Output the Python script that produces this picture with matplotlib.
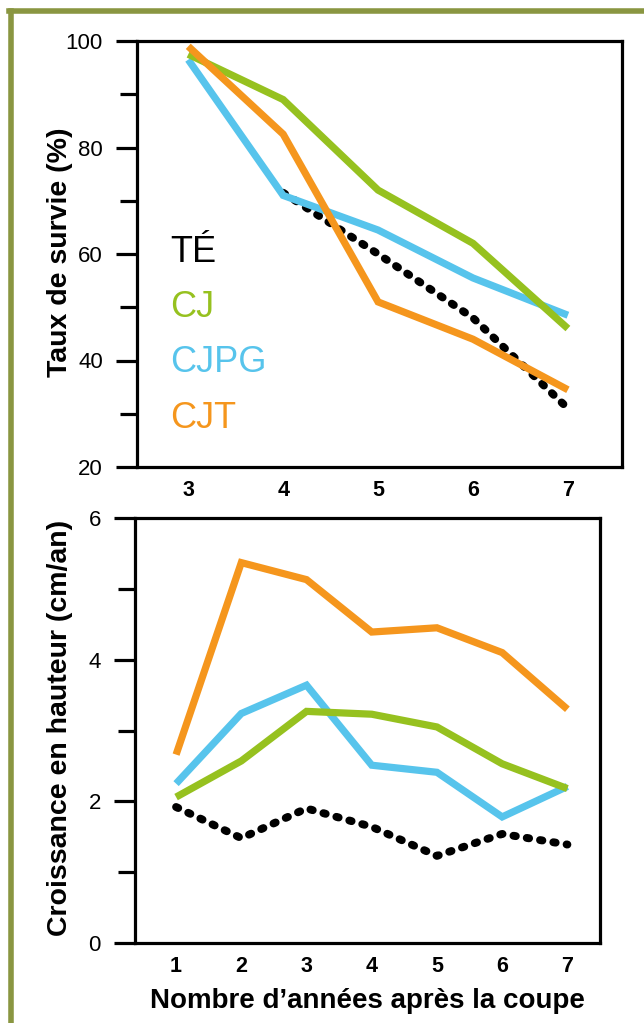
import matplotlib
matplotlib.use("Agg")
import matplotlib.pyplot as plt
from matplotlib.lines import Line2D

plt.rcParams['font.family'] = ['Liberation Sans', 'DejaVu Sans']

# survival (top panel), years 3..7
years_top = [3, 4, 5, 6, 7]
surv_cj = [97.5, 89, 72, 62, 46]
surv_cjpg = [96.5, 71, 64.5, 55.5, 48.5]
surv_cjt = [99, 82.5, 51, 44, 34.5]
years_te = [4, 5, 6, 7]
surv_te = [71.5, 60, 48, 31]

# height growth (bottom panel), years 1..7
years_bot = [1, 2, 3, 4, 5, 6, 7]
gr_cj = [2.06, 2.57, 3.27, 3.23, 3.05, 2.53, 2.18]
gr_cjpg = [2.25, 3.24, 3.64, 2.51, 2.41, 1.78, 2.21]
gr_cjt = [2.66, 5.37, 5.13, 4.39, 4.45, 4.1, 3.3]
gr_te = [1.92, 1.48, 1.9, 1.64, 1.23, 1.54, 1.39]

labels = ['TÉ', 'CJ', 'CJPG', 'CJT']
c_te = 'black'
c_cj = '#96c11f'
c_cjpg = '#57c4ec'
c_cjt = '#f5961d'
frame_col = '#8a9641'

fig = plt.figure(figsize=(6.44, 10.23), dpi=100)

# olive frame (top and left edges)
fig.add_artist(Line2D([11/644, 11/644], [0, 1 - 11/1023], color=frame_col, lw=4, transform=fig.transFigure))
fig.add_artist(Line2D([9/644, 1], [1 - 11/1023, 1 - 11/1023], color=frame_col, lw=4, transform=fig.transFigure))

ax1 = fig.add_axes([137/644, 1 - 467/1023, 485/644, 426/1023])
ax2 = fig.add_axes([135/644, 1 - 943/1023, 465/644, 425/1023])

dot = dict(color=c_te, lw=5.7, linestyle=(0, (0.3, 1.4)), dash_capstyle='round', zorder=1)
solid = dict(lw=5.2, solid_capstyle='butt', solid_joinstyle='miter')

ax1.plot(years_te, surv_te, **dot)
ax1.plot(years_top, surv_cjpg, color=c_cjpg, zorder=2, **solid)
ax1.plot(years_top, surv_cj, color=c_cj, zorder=3, **solid)
ax1.plot(years_top, surv_cjt, color=c_cjt, zorder=4, **solid)

ax2.plot(years_bot, gr_te, **dot)
ax2.plot(years_bot, gr_cjpg, color=c_cjpg, zorder=2, **solid)
ax2.plot(years_bot, gr_cj, color=c_cj, zorder=3, **solid)
ax2.plot(years_bot, gr_cjt, color=c_cjt, zorder=4, **solid)

ax1.set_xlim(2.46, 7.57)
ax1.set_ylim(20, 100)
ax1.set_xticks(years_top)
ax1.set_yticks([20, 40, 60, 80, 100])
ax1.set_yticks([30, 50, 70, 90], minor=True)

ax2.set_xlim(0.37, 7.5)
ax2.set_ylim(0, 6)
ax2.set_xticks(years_bot)
ax2.set_yticks([0, 2, 4, 6])
ax2.set_yticks([1, 3, 5], minor=True)

for ax in (ax1, ax2):
    for s in ax.spines.values():
        s.set_linewidth(2.3)
    ax.tick_params(axis='y', which='major', length=15, width=2.3, labelsize=16, pad=9.5)
    ax.tick_params(axis='y', which='minor', length=12, width=2.3)
    ax.tick_params(axis='x', length=0, labelsize=15.5, pad=9.5)
    for t in ax.get_xticklabels():
        t.set_fontweight('bold')

ax1.set_ylabel('Taux de survie (%)', fontsize=20.5, fontweight='bold')
ax2.set_ylabel('Croissance en hauteur (cm/an)', fontsize=20.5, fontweight='bold')
ax1.yaxis.set_label_coords(-0.132, 0.505)
ax2.yaxis.set_label_coords(-0.133, 0.506)
ax2.set_xlabel('Nombre d\u2019années après la coupe', fontsize=20, fontweight='bold', labelpad=8)

# coloured labels in place of a legend
cols = [c_te, c_cj, c_cjpg, c_cjt]
ys = [0.481, 0.352, 0.223, 0.0915]
for lab, col, y in zip(labels, cols, ys):
    ax1.text(0.068, y, lab, color=col, fontsize=26, transform=ax1.transAxes, va='baseline', ha='left')

fig.savefig('out.png', dpi=100)
